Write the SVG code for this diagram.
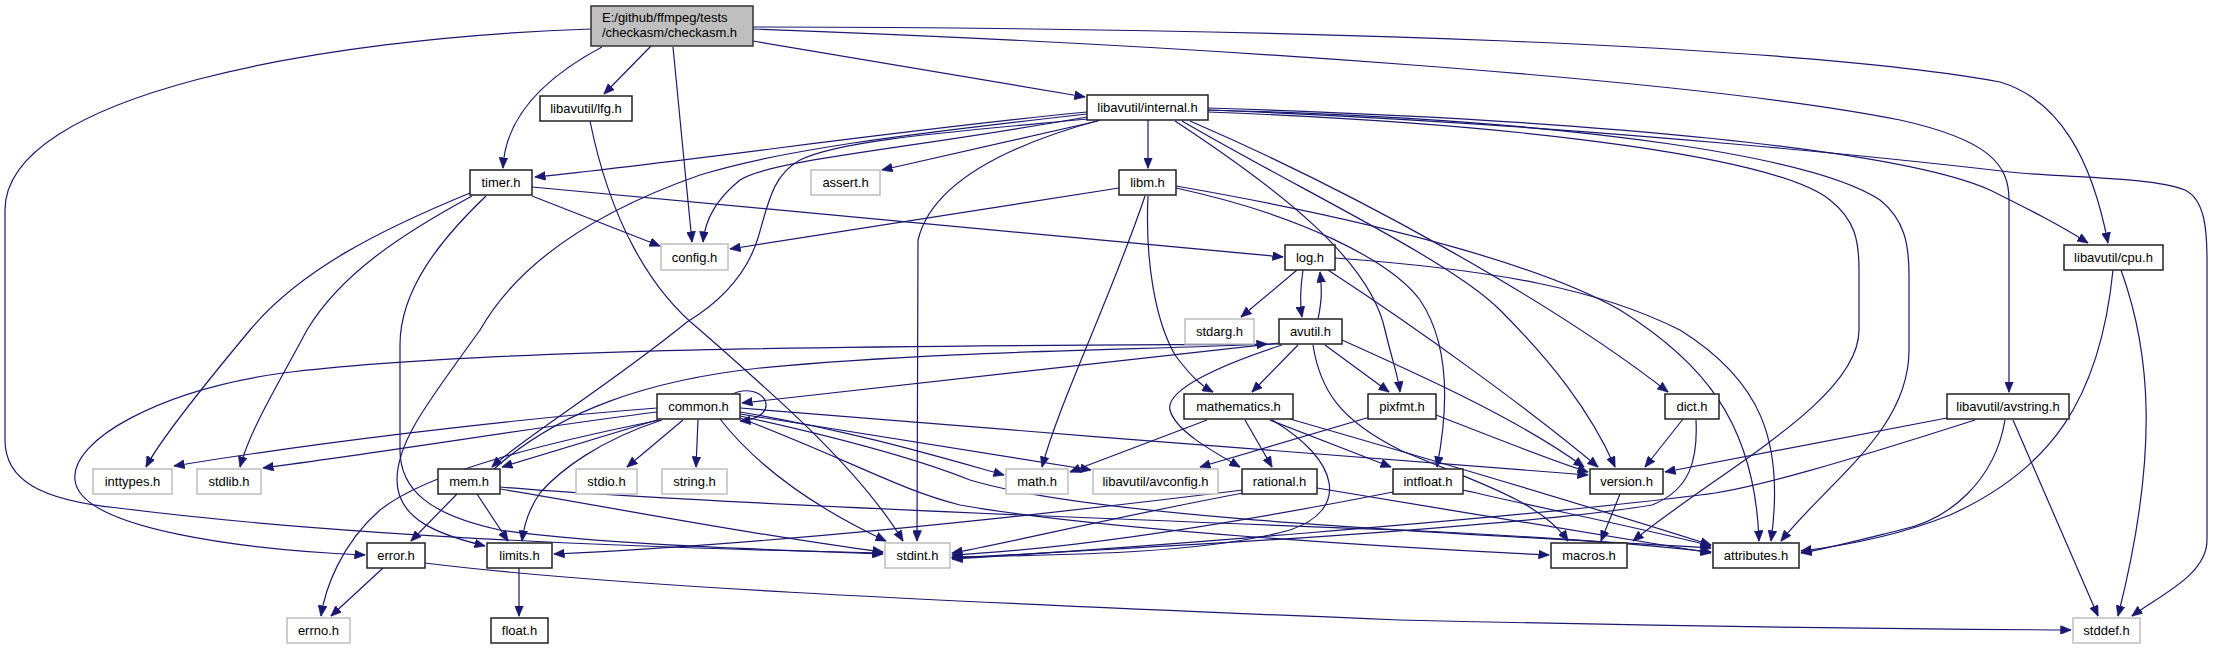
<svg xmlns="http://www.w3.org/2000/svg" width="2213" height="649" viewBox="0 0 2213 649">
<style>
.bg{fill:#ffffff}
.n rect{fill:#ffffff;stroke:#222222;stroke-width:1.5}
.g rect{fill:#ffffff;stroke:#bfbfbf;stroke-width:1.5}
.r rect{fill:#bfbfbf;stroke:#333333;stroke-width:1.5}
text{font-family:"Liberation Sans",Arial,sans-serif;font-size:13px;fill:#000000}
.c{text-anchor:middle}
#edges path{fill:none;stroke:#191970;stroke-width:1.2;marker-end:url(#ah)}
</style>
<defs>
<marker id="ah" markerUnits="userSpaceOnUse" markerWidth="11" markerHeight="9" viewBox="0 0 11 9" refX="10.5" refY="4.5" orient="auto">
<path d="M0,0 L11,4.5 L0,9 z" fill="#191970" stroke="#191970" stroke-width="0.5"/>
</marker>
</defs>
<rect class="bg" x="0" y="0" width="2213" height="649"/>
<g id="edges">
<!-- root -->
<path d="M591,29 C320,38 5,95 5,210 L5,440 C5,480 40,500 118,508 C330,535 600,547 883,553"/>
<path d="M651,46 L604,94"/>
<path d="M602,47 C540,80 505,120 503,168"/>
<path d="M673,47 C678,100 688,200 692,242"/>
<path d="M753,41 L1085,97"/>
<path d="M753,27 C1300,28 1800,45 2000,82 C2060,100 2092,160 2108,243"/>
<path d="M753,29 C1200,45 1700,80 1900,120 C1990,140 2009,165 2009,200 L2009,392"/>
<!-- lfg -->
<path d="M590,121 C610,220 650,290 700,330 C780,400 860,470 903,541"/>
<!-- internal -->
<path d="M1087,112 C900,130 700,160 535,177"/>
<path d="M1098,121 L882,170"/>
<path d="M1087,117 C900,150 770,160 740,180 C715,200 705,220 703,242"/>
<path d="M1148,120 L1148,168"/>
<path d="M1100,120 C990,150 930,190 918,240 L917,541"/>
<path d="M1087,114 C900,135 780,150 700,175 C600,210 520,260 480,330 C430,400 397,440 397,480 C397,520 440,535 485,546"/>
<path d="M1208,110 C1600,125 1950,165 2010,172 C2060,178 2150,176 2185,190 C2205,200 2207,230 2207,260 L2207,540 C2207,575 2160,595 2132,616"/>
<path d="M1208,110 C1600,120 1820,160 1880,200 C1905,220 1909,245 1909,275 L1909,350 C1909,430 1830,480 1781,541"/>
<path d="M1208,108 C1600,120 1900,150 1990,190 C2030,210 2060,225 2088,243"/>
<path d="M1190,121 C1350,190 1550,300 1668,392"/>
<path d="M1208,112 C1550,125 1780,160 1830,200 C1855,220 1859,240 1859,270 L1859,330 C1859,400 1720,470 1633,541"/>
<path d="M1088,119 C950,132 840,140 800,160 C772,175 768,205 758,238 C745,280 715,305 687,322 C610,385 520,440 492,467"/>
<path d="M1175,121 C1280,190 1370,260 1385,330 C1392,360 1398,375 1400,392"/>
<path d="M1182,121 C1300,190 1450,260 1500,310 C1550,360 1590,410 1615,467"/>
<!-- timer -->
<path d="M532,196 L660,246"/>
<path d="M532,187 L1283,257"/>
<path d="M470,193 C380,230 300,270 250,330 C200,390 160,440 146,467"/>
<path d="M472,196 C400,235 340,275 307,330 C275,390 250,430 240,467"/>
<path d="M486,196 C440,240 400,290 400,345 L400,450 C400,490 430,515 500,530 C600,545 780,550 883,554"/>
<!-- libm -->
<path d="M1119,188 L730,249"/>
<path d="M1145,196 C1110,300 1060,400 1042,467"/>
<path d="M1148,196 C1145,260 1155,320 1175,355 C1190,375 1200,385 1213,392"/>
<path d="M1176,186 C1400,225 1550,270 1620,310 C1700,360 1755,420 1759,541"/>
<path d="M1176,188 C1300,215 1390,260 1420,300 C1447,340 1450,400 1437,467"/>
<!-- log -->
<path d="M1297,270 L1241,317"/>
<path d="M1303,270 C1300,290 1300,305 1302,317"/>
<path d="M1335,258 C1500,270 1600,290 1680,330 C1760,380 1785,440 1771,541"/>
<path d="M1328,270 C1420,330 1530,410 1598,467"/>
<!-- avutil -->
<path d="M1318,319 C1322,300 1322,290 1320,272"/>
<path d="M1279,343 L742,403"/>
<path d="M1298,345 L1252,392"/>
<path d="M1325,345 L1389,392"/>
<path d="M1342,340 C1420,375 1520,420 1584,467"/>
<path d="M1279,344 C1000,346 500,345 283,373 C160,390 70,440 75,480 C80,530 250,550 365,555"/>
<path d="M1282,345 C1220,365 1165,390 1170,410 C1175,430 1210,450 1240,467"/>
<path d="M1313,345 C1320,390 1340,420 1400,450 C1470,480 1540,500 1568,541"/>
<!-- common -->
<path d="M730,395 C765,378 785,418 740,421"/>
<path d="M657,408 C500,420 300,445 174,466"/>
<path d="M657,412 C550,425 400,450 263,468"/>
<path d="M657,420 L502,467"/>
<path d="M683,420 L627,467"/>
<path d="M698,420 L696,467"/>
<path d="M740,412 C850,430 950,460 1004,475"/>
<path d="M740,414 C900,440 1000,455 1091,470"/>
<path d="M662,420 C600,440 560,470 540,493 C528,510 524,525 522,541"/>
<path d="M660,420 C560,440 430,470 380,510 C340,545 325,590 321,616"/>
<path d="M720,419 C760,470 820,510 886,541"/>
<path d="M740,408 C1000,430 1400,460 1588,475"/>
<path d="M740,416 C850,440 920,460 970,480 C1100,520 1500,535 1711,548"/>
<path d="M740,418 C850,460 900,490 960,505 C1100,530 1400,548 1549,555"/>
<!-- mem -->
<path d="M494,469 C560,410 650,380 760,368 C950,350 1150,350 1267,344"/>
<path d="M457,494 L411,541"/>
<path d="M477,494 L508,541"/>
<path d="M500,489 C600,505 750,535 883,552"/>
<path d="M500,487 C650,500 1000,515 1400,530 C1550,537 1650,545 1711,552"/>
<!-- mathematics -->
<path d="M1207,420 L1070,472"/>
<path d="M1245,420 L1272,467"/>
<path d="M1270,420 L1391,467"/>
<path d="M1272,420 C1340,460 1350,510 1290,530 C1200,555 1050,555 952,557"/>
<path d="M1290,419 C1450,465 1600,510 1711,545"/>
<!-- pixfmt -->
<path d="M1370,417 L1200,467"/>
<path d="M1436,415 C1500,440 1550,460 1588,472"/>
<!-- rational -->
<path d="M1243,493 C1100,520 1000,545 952,553"/>
<path d="M1243,490 C1000,520 750,545 554,554"/>
<path d="M1317,488 C1450,510 1600,535 1711,553"/>
<!-- intfloat -->
<path d="M1393,492 C1200,530 1050,550 952,555"/>
<path d="M1463,490 C1550,510 1650,530 1711,546"/>
<!-- dict -->
<path d="M1683,419 L1645,467"/>
<path d="M1696,420 C1698,460 1690,490 1652,505 C1500,530 1100,550 952,558"/>
<!-- version -->
<path d="M1620,494 L1601,541"/>
<!-- avstring -->
<path d="M1947,418 L1665,472"/>
<path d="M1975,420 C1850,460 1750,490 1700,495 C1500,520 1100,550 952,559"/>
<path d="M2005,420 C1995,480 1950,520 1900,530 C1860,540 1830,548 1801,553"/>
<path d="M2013,420 L2098,616"/>
<!-- cpu -->
<path d="M2113,270 C2100,400 2050,470 1950,515 C1900,535 1850,545 1801,551"/>
<path d="M2121,270 C2150,350 2160,450 2118,616"/>
<!-- error -->
<path d="M383,568 L331,616"/>
<path d="M425,563 C600,585 900,600 1400,620 C1700,627 1900,629 2071,630"/>
<!-- limits -->
<path d="M519,568 L519,616"/>
</g>
<g id="n-root" class="r"><rect x="591" y="6" width="162" height="40"/><text x="602" y="22">E:/github/ffmpeg/tests</text><text x="602" y="37">/checkasm/checkasm.h</text></g>
<g id="n-lfg" class="n"><rect x="540" y="96" width="92" height="25"/><text class="c" x="586" y="113">libavutil/lfg.h</text></g>
<g id="n-internal" class="n"><rect x="1087" y="95" width="121" height="25"/><text class="c" x="1147.5" y="112">libavutil/internal.h</text></g>
<g id="n-timer" class="n"><rect x="470" y="170" width="62" height="25"/><text class="c" x="501" y="187">timer.h</text></g>
<g id="n-assert" class="g"><rect x="811" y="170" width="69" height="25"/><text class="c" x="845.5" y="187">assert.h</text></g>
<g id="n-libm" class="n"><rect x="1119" y="170" width="57" height="25"/><text class="c" x="1147.5" y="187">libm.h</text></g>
<g id="n-config" class="g"><rect x="661" y="244" width="67" height="26"/><text class="c" x="694.5" y="261.5">config.h</text></g>
<g id="n-log" class="n"><rect x="1285" y="245" width="50" height="25"/><text class="c" x="1310" y="262">log.h</text></g>
<g id="n-cpu" class="n"><rect x="2064" y="245" width="99" height="25"/><text class="c" x="2113.5" y="262">libavutil/cpu.h</text></g>
<g id="n-stdarg" class="g"><rect x="1185" y="319" width="69" height="25"/><text class="c" x="1219.5" y="336">stdarg.h</text></g>
<g id="n-avutil" class="n"><rect x="1279" y="319" width="63" height="25"/><text class="c" x="1310.5" y="336">avutil.h</text></g>
<g id="n-common" class="n"><rect x="657" y="394" width="83" height="25"/><text class="c" x="698.5" y="411">common.h</text></g>
<g id="n-mathematics" class="n"><rect x="1184" y="394" width="109" height="25"/><text class="c" x="1238.5" y="411">mathematics.h</text></g>
<g id="n-pixfmt" class="n"><rect x="1368" y="394" width="68" height="25"/><text class="c" x="1402" y="411">pixfmt.h</text></g>
<g id="n-dict" class="n"><rect x="1665" y="394" width="54" height="25"/><text class="c" x="1692" y="411">dict.h</text></g>
<g id="n-avstring" class="n"><rect x="1947" y="394" width="122" height="25"/><text class="c" x="2008" y="411">libavutil/avstring.h</text></g>
<g id="n-inttypes" class="g"><rect x="93" y="469" width="79" height="25"/><text class="c" x="132.5" y="486">inttypes.h</text></g>
<g id="n-stdlib" class="g"><rect x="197" y="469" width="64" height="25"/><text class="c" x="229" y="486">stdlib.h</text></g>
<g id="n-mem" class="n"><rect x="438" y="469" width="62" height="25"/><text class="c" x="469" y="486">mem.h</text></g>
<g id="n-stdio" class="g"><rect x="576" y="469" width="61" height="25"/><text class="c" x="606.5" y="486">stdio.h</text></g>
<g id="n-string" class="g"><rect x="662" y="469" width="65" height="25"/><text class="c" x="694.5" y="486">string.h</text></g>
<g id="n-math" class="g"><rect x="1006" y="469" width="62" height="25"/><text class="c" x="1037" y="486">math.h</text></g>
<g id="n-avconfig" class="g"><rect x="1093" y="469" width="125" height="25"/><text class="c" x="1155.5" y="486">libavutil/avconfig.h</text></g>
<g id="n-rational" class="n"><rect x="1242" y="469" width="75" height="25"/><text class="c" x="1279.5" y="486">rational.h</text></g>
<g id="n-intfloat" class="n"><rect x="1393" y="469" width="70" height="25"/><text class="c" x="1428" y="486">intfloat.h</text></g>
<g id="n-version" class="n"><rect x="1590" y="469" width="73" height="25"/><text class="c" x="1626.5" y="486">version.h</text></g>
<g id="n-error" class="n"><rect x="367" y="543" width="58" height="25"/><text class="c" x="396" y="560">error.h</text></g>
<g id="n-limits" class="n"><rect x="487" y="543" width="65" height="25"/><text class="c" x="519.5" y="560">limits.h</text></g>
<g id="n-stdint" class="g"><rect x="885" y="543" width="65" height="25"/><text class="c" x="917.5" y="560">stdint.h</text></g>
<g id="n-macros" class="n"><rect x="1551" y="543" width="76" height="25"/><text class="c" x="1589" y="560">macros.h</text></g>
<g id="n-attributes" class="n"><rect x="1713" y="543" width="86" height="25"/><text class="c" x="1756" y="560">attributes.h</text></g>
<g id="n-errno" class="g"><rect x="287" y="618" width="63" height="25"/><text class="c" x="318.5" y="635">errno.h</text></g>
<g id="n-float" class="n"><rect x="491" y="618" width="57" height="25"/><text class="c" x="519.5" y="635">float.h</text></g>
<g id="n-stddef" class="g"><rect x="2073" y="618" width="67" height="25"/><text class="c" x="2106.5" y="635">stddef.h</text></g>
</svg>
